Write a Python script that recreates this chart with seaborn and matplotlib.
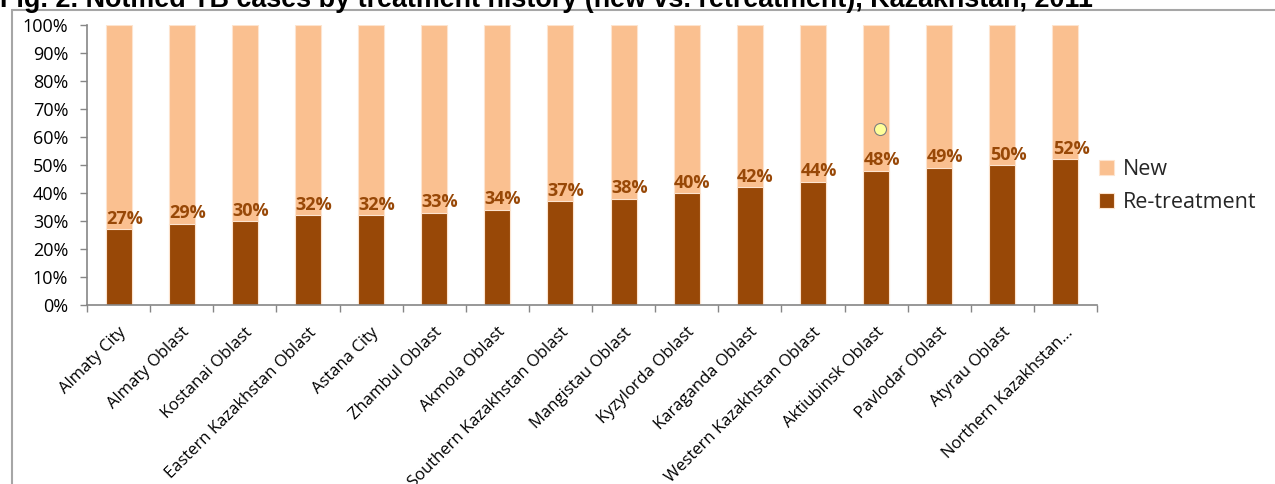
import matplotlib
matplotlib.use("Agg")
import matplotlib.pyplot as plt
import matplotlib.transforms as mtransforms
from matplotlib.lines import Line2D
from matplotlib.ticker import FixedLocator, PercentFormatter
import numpy as np
import pandas as pd
import seaborn as sns

regions = [
    "Almaty City", "Almaty Oblast", "Kostanai Oblast", "Eastern Kazakhstan Oblast",
    "Astana City", "Zhambul Oblast", "Akmola Oblast", "Southern Kazakhstan Oblast",
    "Mangistau Oblast", "Kyzylorda Oblast", "Karaganda Oblast",
    "Western Kazakhstan Oblast", "Aktiubinsk Oblast", "Pavlodar Oblast",
    "Atyrau Oblast", "Northern Kazakhstan...",
]
retreatment = [27, 29, 30, 32, 32, 33, 34, 37, 38, 40, 42, 44, 48, 49, 50, 52]
new_cases = [73, 71, 70, 68, 68, 67, 66, 63, 62, 60, 58, 56, 52, 51, 50, 48]
yticks = [0, 10, 20, 30, 40, 50, 60, 70, 80, 90, 100]

DARK = "#984807"
LIGHT = "#FAC090"
AXIS_GREY = "#868686"

sns.set_theme(style="white")
plt.rcParams["font.family"] = ["Open Sans", "DejaVu Sans"]

df = pd.DataFrame({"region": regions, "Re-treatment": retreatment, "New": new_cases})
df["total"] = df["Re-treatment"] + df["New"]

fig = plt.figure(figsize=(12.75, 4.84), dpi=100)
ax = fig.add_axes([87 / 1275, 1 - 305 / 484, 1010 / 1275, 280 / 484])

sns.barplot(data=df, x="region", y="total", color=LIGHT, width=0.41,
            saturation=1, edgecolor="#FDE4CF", linewidth=0.8, ax=ax, label="New")
sns.barplot(data=df, x="region", y="Re-treatment", color=DARK, width=0.41,
            saturation=1, edgecolor="#FDE4CF", linewidth=0.8, ax=ax, label="Re-treatment")

for i, v in enumerate(df["Re-treatment"]):
    ax.text(i + 0.09, v + 1.9, f"{v}%", ha="center", va="baseline",
            color=DARK, fontsize=13, fontweight="bold")

ax.set_xlim(-0.5, len(regions) - 0.5)
ax.set_ylim(0, 100)
ax.yaxis.set_major_locator(FixedLocator(yticks))
ax.yaxis.set_major_formatter(PercentFormatter(decimals=0))
ax.set_xlabel("")
ax.set_ylabel("")

# category labels under each bar, tick marks on the category boundaries
ax.set_xticks(range(len(regions)))
ax.set_xticklabels(regions, rotation=45, ha="right", va="top",
                   rotation_mode="anchor", fontsize=12, color="black")
shift = mtransforms.ScaledTranslation(4 / 100, 0, fig.dpi_scale_trans)
for lbl in ax.get_xticklabels():
    lbl.set_transform(lbl.get_transform() + shift)
ax.xaxis.set_minor_locator(FixedLocator(np.arange(-0.5, len(regions), 1.0)))
ax.tick_params(axis="x", which="major", length=0, pad=14)
ax.tick_params(axis="x", which="minor", length=5, width=1, color=AXIS_GREY,
               direction="out", bottom=True)
ax.tick_params(axis="y", length=5, width=1, color=AXIS_GREY, direction="out",
               left=True, labelsize=13, labelcolor="black", pad=8.5)

for side in ("top", "right"):
    ax.spines[side].set_visible(False)
for side in ("left", "bottom"):
    ax.spines[side].set_color(AXIS_GREY)
    ax.spines[side].set_linewidth(1.2)
ax.grid(False)

handles, labels = ax.get_legend_handles_labels()
leg = ax.legend(handles, labels, loc="center left",
                bbox_to_anchor=(1099 / 1275, 1 - 186 / 484),
                bbox_transform=fig.transFigure,
                frameon=False, fontsize=15.5, handlelength=0.68, handleheight=0.68,
                handletextpad=0.45, labelspacing=0.55, borderaxespad=0, borderpad=0)

# outer frame and clipped heading
fig.add_artist(Line2D([12 / 1275, 12 / 1275], [0, 1 - 10 / 484],
                      transform=fig.transFigure, color="#A6A6A6", lw=1.5))
fig.add_artist(Line2D([12 / 1275, 1], [1 - 10 / 484, 1 - 10 / 484],
                      transform=fig.transFigure, color="#A6A6A6", lw=1.5))
fig.text(0.0, 1 - 7 / 484,
         "Fig. 2. Notified TB cases by treatment history (new vs. retreatment), Kazakhstan, 2011",
         family=["Liberation Sans", "DejaVu Sans"], fontweight="bold", fontsize=19.4,
         ha="left", va="baseline", color="black")

# highlight marker
ax.scatter([12.06], [62.9], s=75, color="#FFFF99", edgecolor="#7F7F7F",
           linewidth=0.8, zorder=5)

fig.savefig("out.png", dpi=100)
